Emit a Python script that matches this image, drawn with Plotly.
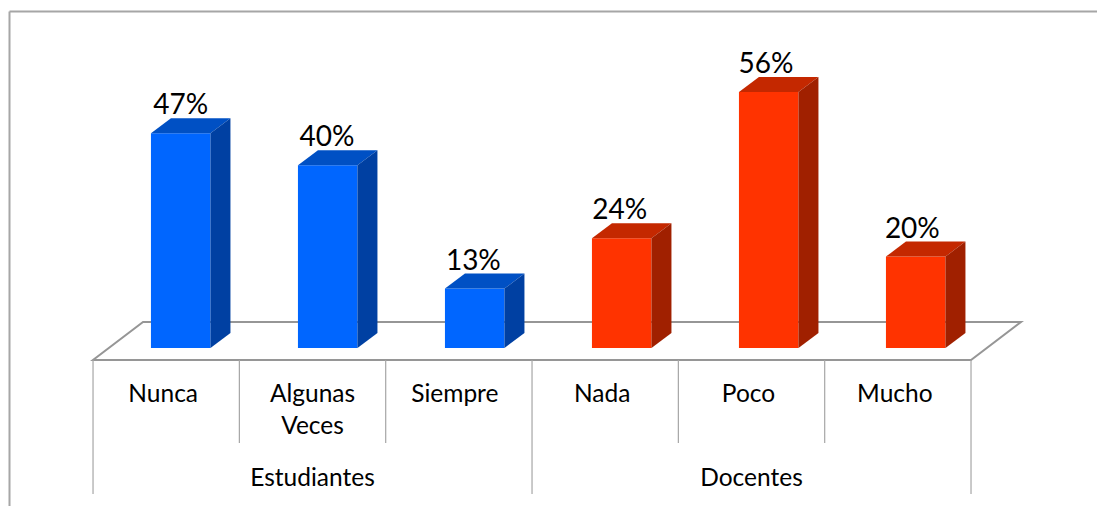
import plotly.graph_objects as go

groups = ["Estudiantes", "Docentes"]
group_spans = [(0, 2), (3, 5)]
categories = ["Nunca", "Algunas<br>Veces", "Siempre", "Nada", "Poco", "Mucho"]
values = [47, 40, 13, 24, 56, 20]
labels = ["47%", "40%", "13%", "24%", "56%", "20%"]
front_colors = ["#0066FF"] * 3 + ["#FF3300"] * 3
top_colors = ["#0050C4"] * 3 + ["#C42800"] * 3
side_colors = ["#0040A2"] * 3 + ["#A02000"] * 3

W, H = 1097, 506
CAT_PX = 146.33        # px per category
BAR_PITCH_PX = 147.0   # px between bars
Y_PX = 4.57            # px per percent
X_ZERO_PX = 166.2      # px of category 0 centre
Y_ZERO_PX = 348        # px of value 0
dx = 20 / CAT_PX
dy = 15 / Y_PX
bar_w = 59.5 / CAT_PX
bar_shift = 14.5 / CAT_PX
floor_front = -12 / Y_PX
floor_back = 26 / Y_PX
floor_dx = 50 / CAT_PX
grey = "#A6A6A6"
dark_grey = "#969696"
font = "Lato, Carlito, Calibri, sans-serif"
label_nudge = [-3, 0, -4, -3, -3, -3]

fig = go.Figure()

xs = [i * BAR_PITCH_PX / CAT_PX + bar_shift for i in range(len(values))]
label_xs = [i + bar_shift for i in range(len(values))]
fig.add_trace(go.Bar(x=xs, y=values, width=bar_w, marker=dict(color=front_colors, line_width=0),
                     hoverinfo="skip", showlegend=False))
for x, v, ct, cs in zip(xs, values, top_colors, side_colors):
    l, r = x - bar_w / 2, x + bar_w / 2
    fig.add_trace(go.Scatter(x=[l, r, r + dx, l + dx, l], y=[v, v, v + dy, v + dy, v], mode="lines",
                             fill="toself", fillcolor=ct, line=dict(width=0), hoverinfo="skip", showlegend=False))
    fig.add_trace(go.Scatter(x=[r, r + dx, r + dx, r, r], y=[0, dy, v + dy, v, 0], mode="lines",
                             fill="toself", fillcolor=cs, line=dict(width=0), hoverinfo="skip", showlegend=False))

# value labels
fig.add_trace(go.Scatter(x=label_xs, y=[v + 26 / Y_PX for v in values], text=labels, mode="text",
                         textposition="middle center", textfont=dict(family=font, size=28, color="#000000"),
                         hoverinfo="skip", showlegend=False))
# category labels
y_cat = (Y_ZERO_PX - 384) / Y_PX
fig.add_trace(go.Scatter(x=[i + label_nudge[i] / CAT_PX for i in range(6)], y=[y_cat] * 6, text=categories, mode="text",
                         textposition="bottom center", textfont=dict(family=font, size=24.5, color="#000000"),
                         hoverinfo="skip", showlegend=False))
# group labels
y_grp = (Y_ZERO_PX - 480) / Y_PX
fig.add_trace(go.Scatter(x=[(a + b) / 2 for a, b in group_spans], y=[y_grp] * 2, text=groups, mode="text",
                         textposition="middle center", textfont=dict(family=font, size=24.5, color="#000000"),
                         hoverinfo="skip", showlegend=False))

shapes = []
n = len(values)
left, right = -0.5, n - 0.5
# floor
shapes.append(dict(type="path", layer="below", line=dict(color=dark_grey, width=2), fillcolor="rgba(0,0,0,0)",
                   path=f"M {left} {floor_front} L {right} {floor_front} L {right + floor_dx} {floor_back} "
                        f"L {left + floor_dx} {floor_back} Z"))
# dividers
y_inner = (Y_ZERO_PX - 443) / Y_PX
y_outer = (Y_ZERO_PX - 494) / Y_PX
for i in range(n + 1):
    outer = i in (0, 3, 6)
    shapes.append(dict(type="line", layer="below", line=dict(color=grey, width=1.2),
                       x0=i - 0.5, x1=i - 0.5, y0=floor_front, y1=y_outer if outer else y_inner))
# chart frame
shapes.append(dict(type="line", xref="paper", yref="paper", layer="below", line=dict(color=grey, width=2),
                   x0=9.5 / W, x1=1, y0=1 - 11.5 / H, y1=1 - 11.5 / H))
shapes.append(dict(type="line", xref="paper", yref="paper", layer="below", line=dict(color=grey, width=2),
                   x0=9.5 / W, x1=9.5 / W, y0=0, y1=1 - 11.5 / H))

fig.update_layout(
    width=W, height=H, margin=dict(l=0, r=0, t=0, b=0, pad=0), autosize=False,
    paper_bgcolor="white", plot_bgcolor="white", showlegend=False, shapes=shapes,
    xaxis=dict(range=[-X_ZERO_PX / CAT_PX, (W - X_ZERO_PX) / CAT_PX], visible=False, fixedrange=True),
    yaxis=dict(range=[(Y_ZERO_PX - H) / Y_PX, Y_ZERO_PX / Y_PX], visible=False, fixedrange=True),
)
fig.write_html("out.html", config={"displayModeBar": False},
               post_script="document.body.style.margin='0';document.body.style.overflow='hidden';")
